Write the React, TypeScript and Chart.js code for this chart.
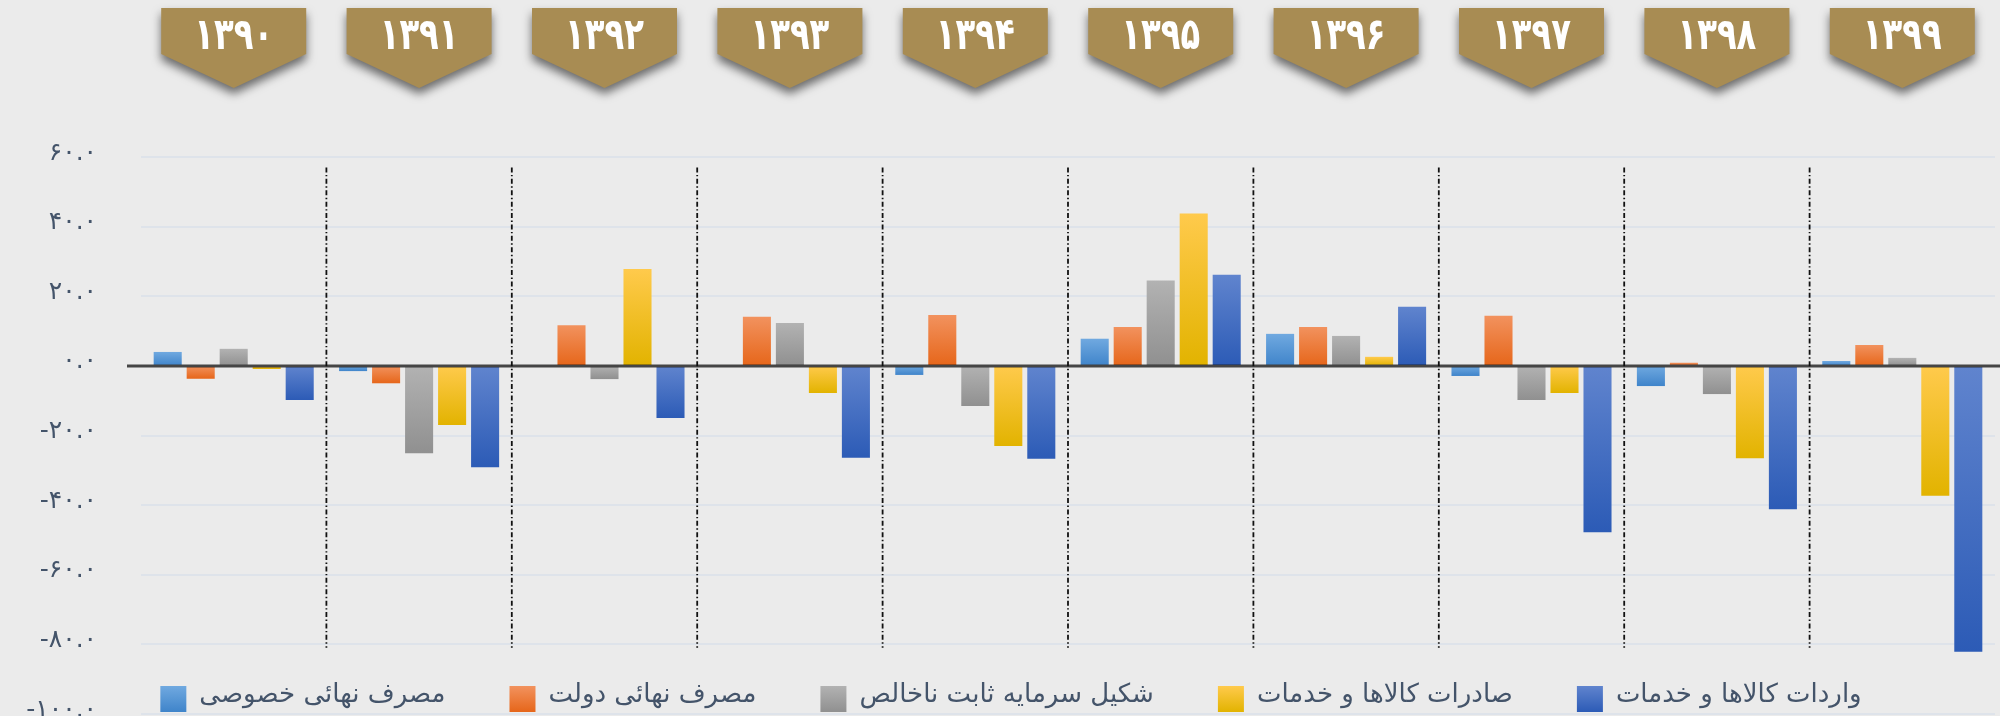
import React, { useEffect, useRef } from 'react';
import { Chart, registerables } from 'chart.js';

Chart.register(...registerables);

// ---- Data ----
const years = ['۱۳۹۰', '۱۳۹۱', '۱۳۹۲', '۱۳۹۳', '۱۳۹۴', '۱۳۹۵', '۱۳۹۶', '۱۳۹۷', '۱۳۹۸', '۱۳۹۹'];

const seriesNames = [
  'مصرف نهائی خصوصی',
  'مصرف نهائی دولت',
  'شکیل سرمایه ثابت ناخالص',
  'صادرات کالاها و خدمات',
  'واردات کالاها و خدمات',
];

const privateConsumption = [4.0, -1.5, -0.3, -0.3, -2.6, 7.8, 9.2, -2.9, -5.8, 1.4];
const governmentConsumption = [-3.7, -5.0, 11.7, 14.1, 14.6, 11.2, 11.2, 14.4, 0.9, 6.0];
const fixedCapital = [4.9, -25.1, -3.8, 12.3, -11.5, 24.5, 8.6, -9.8, -8.1, 2.3];
const exportsGS = [-0.9, -17.0, 27.8, -7.8, -23.0, 43.8, 2.6, -7.8, -26.5, -37.3];
const importsGS = [-9.8, -29.1, -15.0, -26.4, -26.7, 26.2, 17.0, -47.8, -41.2, -82.1];

const yMin = -100;
const yMax = 60;
const yStep = 20;

// ---- Styles ----
const gradientStops: [string, string][] = [
  ['#70A9E0', '#3F84CA'],
  ['#F2925E', '#E6661A'],
  ['#B2B2B2', '#909090'],
  ['#FFCA4C', '#E2B300'],
  ['#6084CE', '#2C5BB6'],
];
const BG = '#EBEBEB';
const TEXT = '#44546A';
const GOLD = '#A88C53';
const FONT = "'DejaVu Sans', sans-serif";

const faDigits = '۰۱۲۳۴۵۶۷۸۹';
const toFa = (s: string) => s.replace(/[0-9]/g, (d) => faDigits[+d]);

const seriesValues = [privateConsumption, governmentConsumption, fixedCapital, exportsGS, importsGS];

function barGradient(ctx: any, idx: number) {
  const chart = ctx.chart;
  const ys = chart.scales && chart.scales.y;
  const stops = gradientStops[idx];
  if (!ys || ctx.parsed == null || ctx.type !== 'data') return stops[0];
  const v = ctx.parsed.y;
  const p0 = ys.getPixelForValue(0);
  const p1 = ys.getPixelForValue(v);
  const top = Math.min(p0, p1);
  const bot = Math.max(p0, p1);
  if (!isFinite(top) || !isFinite(bot) || bot - top < 0.5) return stops[1];
  const g = chart.ctx.createLinearGradient(0, top, 0, bot);
  g.addColorStop(0, stops[0]);
  g.addColorStop(1, stops[1]);
  return g;
}

const bgPlugin = {
  id: 'bgFill',
  beforeDraw(chart: any) {
    const c = chart.ctx;
    c.save();
    c.fillStyle = BG;
    c.fillRect(0, 0, chart.width, chart.height);
    c.restore();
  },
};

const overlayPlugin = {
  id: 'overlay',
  afterDatasetsDraw(chart: any) {
    const c = chart.ctx;
    const xs = chart.scales.x;
    const ys = chart.scales.y;
    const area = chart.chartArea;
    // zero line
    const y0 = ys.getPixelForValue(0);
    c.save();
    c.strokeStyle = 'rgba(28,28,28,0.8)';
    c.lineWidth = 3;
    c.beginPath();
    c.moveTo(area.left - 14, y0);
    c.lineTo(chart.width, y0);
    c.stroke();
    // dividers
    c.strokeStyle = '#111';
    c.lineWidth = 1.8;
    c.setLineDash([5, 2.5, 1.4, 2.5]);
    const yTop = ys.getPixelForValue(57);
    const yBot = ys.getPixelForValue(-81);
    for (let i = 0; i < years.length - 1; i++) {
      const x = (xs.getPixelForValue(i) + xs.getPixelForValue(i + 1)) / 2;
      c.beginPath();
      c.moveTo(x, yTop);
      c.lineTo(x, yBot);
      c.stroke();
    }
    c.restore();
  },
  afterDraw(chart: any) {
    const c = chart.ctx;
    const xs = chart.scales.x;
    // banners
    const halfW = 72.5;
    const top = 8;
    const shoulder = 54;
    const point = 88;
    years.forEach((label, i) => {
      const cx = xs.getPixelForValue(i);
      c.save();
      c.shadowColor = 'rgba(0,0,0,0.55)';
      c.shadowBlur = 10;
      c.shadowOffsetY = 6;
      c.fillStyle = GOLD;
      c.beginPath();
      c.moveTo(cx - halfW, top);
      c.lineTo(cx + halfW, top);
      c.lineTo(cx + halfW, shoulder);
      c.lineTo(cx, point);
      c.lineTo(cx - halfW, shoulder);
      c.closePath();
      c.fill();
      c.restore();
      c.save();
      c.fillStyle = '#FFFFFF';
      c.font = `bold 34px ${FONT}`;
      c.textAlign = 'center';
      c.textBaseline = 'middle';
      c.translate(cx, 38);
      c.scale(0.95, 1.3);
      c.fillText(label, 0, 0);
      c.restore();
    });
    // legend
    c.save();
    c.font = `26px ${FONT}`;
    c.textBaseline = 'middle';
    c.textAlign = 'left';
    const box = 26;
    const textGap = 13;
    const itemGap = 64;
    const widths = seriesNames.map((n) => c.measureText(n).width);
    const total = widths.reduce((a, w) => a + box + textGap + w, 0) + itemGap * (seriesNames.length - 1);
    let x = 1011 - total / 2;
    const boxTop = 686;
    seriesNames.forEach((name, i) => {
      const g = c.createLinearGradient(0, boxTop, 0, boxTop + box);
      g.addColorStop(0, gradientStops[i][0]);
      g.addColorStop(1, gradientStops[i][1]);
      c.fillStyle = g;
      c.fillRect(x, boxTop, box, box);
      c.fillStyle = TEXT;
      c.fillText(name, x + box + textGap, boxTop + 9);
      x += box + textGap + widths[i] + itemGap;
    });
    c.restore();
  },
};

export default function App() {
  const ref = useRef<HTMLCanvasElement | null>(null);

  useEffect(() => {
    document.body.style.margin = '0';
    document.body.style.background = BG;
    const canvas = ref.current;
    if (!canvas) return;
    const chart = new Chart(canvas, {
      type: 'bar',
      data: {
        labels: years,
        datasets: seriesNames.map((name, i) => ({
          label: name,
          data: seriesValues[i],
          backgroundColor: (ctx: any) => barGradient(ctx, i),
          borderWidth: 0,
          categoryPercentage: 0.89,
          barPercentage: 0.85,
        })),
      },
      options: {
        animation: false,
        responsive: false,
        devicePixelRatio: 1,
        layout: { padding: { top: 157, bottom: 2, left: 0, right: 5 } },
        plugins: {
          legend: { display: false },
          tooltip: { enabled: false },
          title: { display: false },
        },
        scales: {
          x: {
            type: 'category',
            display: false,
            grid: { display: false },
          },
          y: {
            min: yMin,
            max: yMax,
            ticks: {
              stepSize: yStep,
              color: TEXT,
              font: { family: FONT, size: 25 },
              padding: 44,
              labelOffset: -4,
              callback: (v: any) => toFa(Number(v).toFixed(1)),
            },
            grid: {
              color: (ctx: any) => (ctx.tick && ctx.tick.value === 0 ? 'rgba(0,0,0,0)' : '#DEE3EA'),
              lineWidth: 2,
              drawTicks: false,
            },
            border: { display: false },
            afterFit: (s: any) => {
              s.width = 141;
              s.paddingTop = 0;
              s.paddingBottom = 0;
            },
          },
        },
      },
      plugins: [bgPlugin, overlayPlugin],
    });
    return () => chart.destroy();
  }, []);

  return (
    <div style={{ width: 2000, height: 716, background: BG }}>
      <canvas ref={ref} width={2000} height={716} style={{ display: 'block', width: 2000, height: 716 }} />
    </div>
  );
}
